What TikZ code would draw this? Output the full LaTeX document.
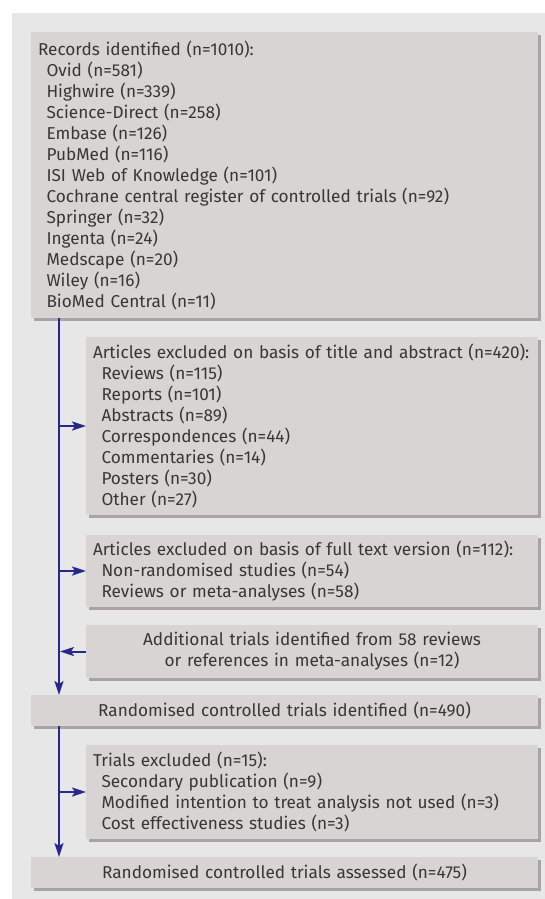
\documentclass[tikz,border=0pt]{standalone}
\usepackage{fontspec}
\setmainfont{Fira Sans}
\usetikzlibrary{positioning,arrows.meta,shadows}
\definecolor{pagegrey}{RGB}{231,231,231}
\definecolor{boxgrey}{RGB}{216,212,209}
\definecolor{shadegrey}{RGB}{168,164,164}
\definecolor{flownavy}{RGB}{40,40,138}
\definecolor{inkgrey}{RGB}{55,55,55}
\newcommand{\ind}{\hspace*{8.5pt}}

\begin{document}
\begin{tikzpicture}[x=1pt,y=1pt,
box/.style={fill=boxgrey,text=inkgrey,inner xsep=7pt,inner ysep=0pt,outer sep=0pt,
    font=\fontsize{17.2}{21}\selectfont,align=left,
    drop shadow={shadow xshift=3pt,shadow yshift=-3pt,fill=shadegrey,opacity=1}},
wide/.style={box,text width=493pt,minimum height=#1},
narrow/.style={box,text width=438pt,minimum height=#1},
flow/.style={draw=flownavy,line width=2pt,-{Stealth[length=14pt,width=9pt,inset=3pt]}}]
\useasboundingbox (0,0) rectangle (545,-899);
\fill[pagegrey] (12,-13) rectangle (545,-899);

\node (recs) [wide=286pt,anchor=north east] at (538,-32) {Records identified (n=1010):\\
    \ind Ovid (n=581)\\
    \ind Highwire (n=339)\\
    \ind Science-Direct (n=258)\\
    \ind Embase (n=126)\\
    \ind PubMed (n=116)\\
    \ind ISI Web of Knowledge (n=101)\\
    \ind Cochrane central register of controlled trials (n=92)\\
    \ind Springer (n=32)\\
    \ind Ingenta (n=24)\\
    \ind Medscape (n=20)\\
    \ind Wiley (n=16)\\
    \ind BioMed Central (n=11)};

\node (extitle) [narrow=178pt,below left=19pt and 0pt of recs.south east] {Articles excluded on basis of title and abstract (n=420):\\
    \ind Reviews (n=115)\\
    \ind Reports (n=101)\\
    \ind Abstracts (n=89)\\
    \ind Correspondences (n=44)\\
    \ind Commentaries (n=14)\\
    \ind Posters (n=30)\\
    \ind Other (n=27)};

\node (exfull) [narrow=72pt,below left=20pt and 0pt of extitle.south east] {Articles excluded on basis of full text version (n=112):\\
    \ind Non-randomised studies (n=54)\\
    \ind Reviews or meta-analyses (n=58)};

\node (extra) [narrow=53pt,align=center,below left=18pt and 0pt of exfull.south east] {Additional trials identified from 58 reviews\\
    or references in meta-analyses (n=12)};

\node (rctid) [wide=31pt,align=center,below left=17pt and 0pt of extra.south east] {Randomised controlled trials identified (n=490)};

\node (trex) [narrow=94pt,below left=19pt and 0pt of rctid.south east] {Trials excluded (n=15):\\
    \ind Secondary publication (n=9)\\
    \ind Modified intention to treat analysis not used (n=3)\\
    \ind Cost effectiveness studies (n=3)};

\node (rctas) [wide=31pt,align=center,below left=18pt and 0pt of trex.south east] {Randomised controlled trials assessed (n=475)};

% trunk and side arrows
\coordinate (trunk) at (59,0);
\draw[flow] (trunk |- recs.south) -- (trunk |- rctid.north);
\draw[flow] (trunk |- extitle.west) -- (extitle.west);
\draw[flow] (trunk |- exfull.west) -- (exfull.west);
\draw[flow,shorten >=1pt] (extra.west) -- (trunk |- extra.west);
\draw[flow] (trunk |- rctid.south) -- (trunk |- rctas.north);
\draw[flow] (trunk |- trex.west) -- (trex.west);
\end{tikzpicture}
\end{document}
